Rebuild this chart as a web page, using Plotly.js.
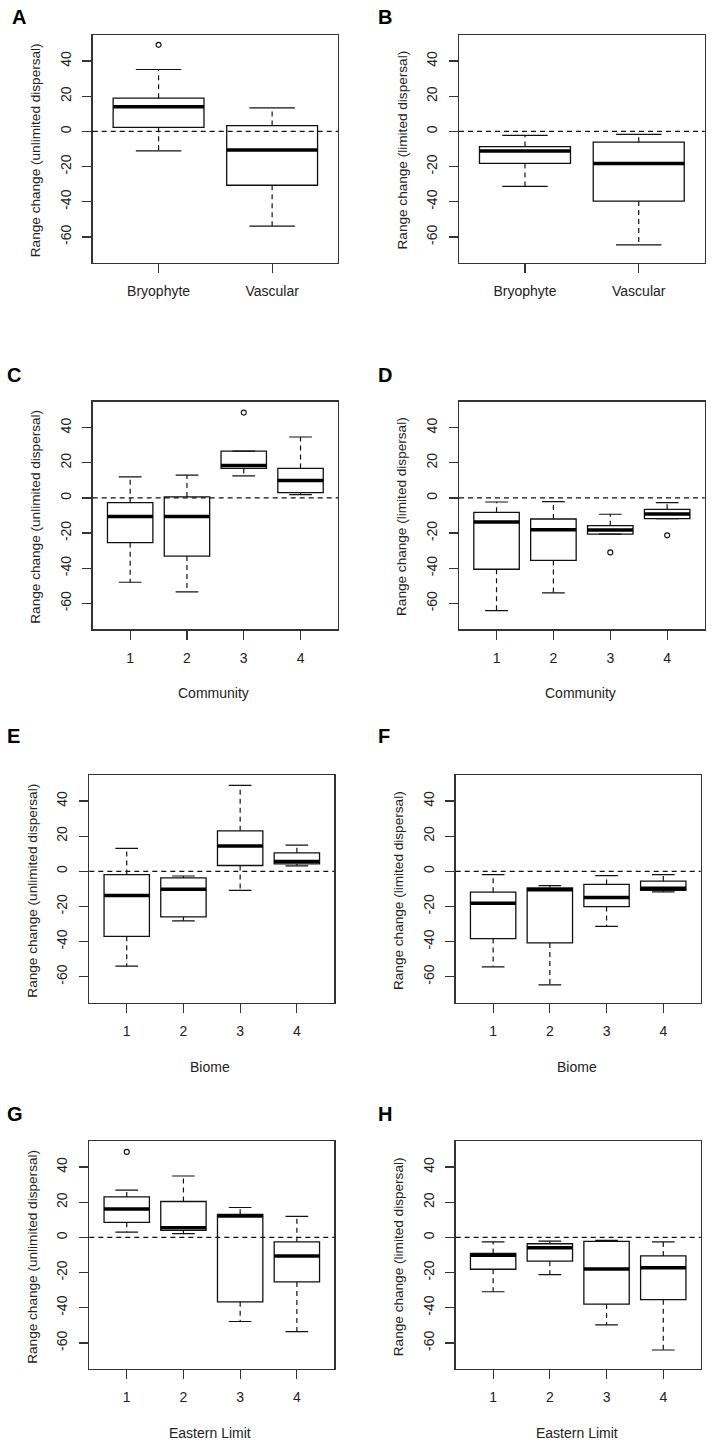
<!DOCTYPE html>
<html><head><meta charset="utf-8">
<script src="https://cdn.plot.ly/plotly-3.0.1.min.js"></script>
<style>html,body{margin:0;padding:0;background:#fff}#chart{width:717px;height:1443px}</style>
</head><body><div id="chart"></div>
<script>
// ---------- data ----------
const groupCats = ['Bryophyte', 'Vascular'];
const numCats = ['1', '2', '3', '4'];
const yTicks = [-60, -40, -20, 0, 20, 40];
const yTitleUnlimited = 'Range change (unlimited dispersal)';
const yTitleLimited = 'Range change (limited dispersal)';

// A: unlimited dispersal by group
const A_low  = [-11.1, -53.8];
const A_q1   = [2.3, -30.6];
const A_med  = [14.0, -10.5];
const A_q3   = [18.9, 3.3];
const A_high = [35.2, 13.4];
const A_outX = [1];
const A_outY = [49.2];

// B: limited dispersal by group
const B_low  = [-31.2, -64.5];
const B_q1   = [-18.2, -39.6];
const B_med  = [-11.1, -18.2];
const B_q3   = [-8.6, -6.1];
const B_high = [-2.3, -1.7];
const B_outX = [];
const B_outY = [];

// C: unlimited dispersal by community
const C_low  = [-48.0, -53.5, 12.6, 1.9];
const C_q1   = [-25.5, -33.1, 16.8, 3.0];
const C_med  = [-10.5, -10.5, 18.5, 9.9];
const C_q3   = [-2.7, 0.6, 26.7, 16.8];
const C_high = [12.0, 13.0, 26.7, 34.7];
const C_outX = [3];
const C_outY = [48.6];

// D: limited dispersal by community
const D_low  = [-64.2, -54.1, -20.6, -11.8];
const D_q1   = [-40.6, -35.6, -20.6, -11.8];
const D_med  = [-13.7, -18.1, -18.3, -9.1];
const D_q3   = [-8.2, -12.0, -15.8, -6.5];
const D_high = [-2.3, -2.1, -9.3, -2.7];
const D_outX = [3, 4];
const D_outY = [-31.0, -21.3];

// E: unlimited dispersal by biome
const E_low  = [-54.0, -28.2, -10.9, 3.1];
const E_q1   = [-37.0, -25.9, 3.3, 4.2];
const E_med  = [-13.8, -10.2, 14.4, 5.6];
const E_q3   = [-1.9, -3.8, 23.0, 10.5];
const E_high = [13.0, -2.7, 48.9, 14.9];
const E_outX = [];
const E_outY = [];

// F: limited dispersal by biome
const F_low  = [-54.4, -64.6, -31.4, -11.7];
const F_q1   = [-38.3, -40.8, -20.1, -10.9];
const F_med  = [-18.2, -10.5, -14.9, -9.6];
const F_q3   = [-11.9, -9.4, -7.5, -5.6];
const F_high = [-1.9, -8.2, -2.5, -1.9];
const F_outX = [];
const F_outY = [];

// G: unlimited dispersal by eastern limit
const G_low  = [3.0, 2.1, -47.8, -53.5];
const G_q1   = [8.6, 4.0, -36.6, -25.3];
const G_med  = [16.2, 5.5, 12.2, -10.5];
const G_q3   = [23.0, 20.4, 13.1, -2.5];
const G_high = [26.9, 34.9, 17.0, 12.0];
const G_outX = [1];
const G_outY = [48.6];

// H: limited dispersal by eastern limit
const H_low  = [-30.9, -21.1, -49.7, -64.0];
const H_q1   = [-18.1, -13.5, -37.9, -35.4];
const H_med  = [-10.1, -5.9, -17.9, -17.3];
const H_q3   = [-9.1, -3.6, -2.3, -10.5];
const H_high = [-2.5, -2.1, -1.7, -2.5];
const H_outX = [];
const H_outY = [];

// ---------- layout geometry ----------
const W = 717, H = 1443;
const panels = [
  {id:'A', cats:groupCats, low:A_low, q1:A_q1, med:A_med, q3:A_q3, high:A_high, ox:A_outX, oy:A_outY, yt:yTitleUnlimited, xt:'', f:[92.7,338,35,263], lab:[9.5,16.7]},
  {id:'B', cats:groupCats, low:B_low, q1:B_q1, med:B_med, q3:B_q3, high:B_high, ox:B_outX, oy:B_outY, yt:yTitleLimited, xt:'', f:[459,704.7,35,263], lab:[375.5,16.7]},
  {id:'C', cats:numCats, low:C_low, q1:C_q1, med:C_med, q3:C_q3, high:C_high, ox:C_outX, oy:C_outY, yt:yTitleUnlimited, xt:'Community', f:[92.7,338,401.7,629.3], lab:[4.5,375]},
  {id:'D', cats:numCats, low:D_low, q1:D_q1, med:D_med, q3:D_q3, high:D_high, ox:D_outX, oy:D_outY, yt:yTitleLimited, xt:'Community', f:[459,704.7,401.7,629.3], lab:[375.5,375]},
  {id:'E', cats:numCats, low:E_low, q1:E_q1, med:E_med, q3:E_q3, high:E_high, ox:E_outX, oy:E_outY, yt:yTitleUnlimited, xt:'Biome', f:[89.3,334.3,775,1002.7], lab:[4.5,735.5]},
  {id:'F', cats:numCats, low:F_low, q1:F_q1, med:F_med, q3:F_q3, high:F_high, ox:F_outX, oy:F_outY, yt:yTitleLimited, xt:'Biome', f:[455.7,700.7,775,1002.7], lab:[375.5,736.5]},
  {id:'G', cats:numCats, low:G_low, q1:G_q1, med:G_med, q3:G_q3, high:G_high, ox:G_outX, oy:G_outY, yt:yTitleUnlimited, xt:'Eastern Limit', f:[89.3,334.3,1141,1369], lab:[4.5,1114]},
  {id:'H', cats:numCats, low:H_low, q1:H_q1, med:H_med, q3:H_q3, high:H_high, ox:H_outX, oy:H_outY, yt:yTitleLimited, xt:'Eastern Limit', f:[455.7,700.7,1141,1369], lab:[375.5,1114]}
];

const FONT = 'Liberation Sans, Arial, sans-serif';
const TXT = '#222';
const FRAME = '#333';
const BOXW = 0.8;

const traces = [];
const layout = {
  width: W, height: H,
  margin: {l:0, r:0, t:0, b:0},
  paper_bgcolor: '#fff', plot_bgcolor: '#fff',
  showlegend: false,
  font: {family: FONT, color: TXT},
  shapes: [], annotations: []
};

panels.forEach((p, i) => {
  const n = i + 1;
  const xa = n === 1 ? 'x' : 'x' + n;
  const ya = n === 1 ? 'y' : 'y' + n;
  const pos = p.cats.map((c, k) => k + 1);
  const ng = p.cats.length;

  // box bodies (whisker fences drawn separately as dashed lines, R style)
  traces.push({
    type: 'box', xaxis: xa, yaxis: ya,
    x: pos, q1: p.q1, median: p.med, q3: p.q3,
    lowerfence: p.q1, upperfence: p.q3,
    width: BOXW, whiskerwidth: 0,
    fillcolor: 'rgba(255,255,255,0)',
    line: {color: '#111', width: 1.3},
    boxpoints: false, hoverinfo: 'skip'
  });

  // dashed whiskers, solid caps, thick medians
  const wx = [], wy = [], cx = [], cy = [], mx = [], my = [];
  pos.forEach((x, k) => {
    wx.push(x, x, null, x, x, null);
    wy.push(p.q3[k], p.high[k], null, p.q1[k], p.low[k], null);
    cx.push(x - BOXW / 4, x + BOXW / 4, null, x - BOXW / 4, x + BOXW / 4, null);
    cy.push(p.high[k], p.high[k], null, p.low[k], p.low[k], null);
    mx.push(x - BOXW / 2, x + BOXW / 2, null);
    my.push(p.med[k], p.med[k], null);
  });
  traces.push({type:'scatter', mode:'lines', xaxis:xa, yaxis:ya, x:wx, y:wy,
    line:{color:'#111', width:1.2, dash:'5px,4px'}, hoverinfo:'skip'});
  traces.push({type:'scatter', mode:'lines', xaxis:xa, yaxis:ya, x:cx, y:cy,
    line:{color:'#111', width:1.2}, hoverinfo:'skip'});
  traces.push({type:'scatter', mode:'lines', xaxis:xa, yaxis:ya, x:mx, y:my,
    line:{color:'#000', width:3.5}, hoverinfo:'skip'});
  if (p.ox.length) {
    traces.push({type:'scatter', mode:'markers', xaxis:xa, yaxis:ya, x:p.ox, y:p.oy,
      marker:{symbol:'circle-open', size:5, color:'#111', line:{width:1.1, color:'#111'}}, hoverinfo:'skip'});
  }

  const [x0, x1, y0, y1] = p.f;
  const pad = 0.04 * ng; // R's 4% axis expansion
  layout['xaxis' + (n === 1 ? '' : n)] = {
    domain: [x0 / W, x1 / W], anchor: ya,
    range: [0.5 - pad, ng + 0.5 + pad],
    tickmode: 'array', tickvals: pos, ticktext: p.cats,
    ticks: 'outside', ticklen: 9, tickwidth: 1.2, tickcolor: FRAME,
    ticklabelstandoff: 6,
    showline: true, mirror: true, linecolor: FRAME, linewidth: 1.4,
    showgrid: false, zeroline: false, fixedrange: true,
    tickfont: {family: FONT, size: 14, color: TXT}
  };
  layout['yaxis' + (n === 1 ? '' : n)] = {
    domain: [1 - y1 / H, 1 - y0 / H], anchor: xa,
    range: [-74.8, 54.8],
    tickmode: 'array', tickvals: yTicks, ticktext: yTicks.map(String),
    tickangle: -90,
    ticks: 'outside', ticklen: 9, tickwidth: 1.2, tickcolor: FRAME,
    ticklabelstandoff: 6,
    showline: true, mirror: true, linecolor: FRAME, linewidth: 1.4,
    showgrid: false, zeroline: false, fixedrange: true,
    tickfont: {family: FONT, size: 14, color: TXT}
  };

  // zero reference line (abline h=0, lty=2)
  layout.shapes.push({
    type: 'line', layer: 'above', xref: xa + ' domain', yref: ya,
    x0: 0, x1: 1, y0: 0, y1: 0,
    line: {color: '#111', width: 1.2, dash: '5px,4px'}
  });

  // panel letter
  layout.annotations.push({
    xref: 'paper', yref: 'paper', x: p.lab[0] / W, y: 1 - p.lab[1] / H,
    xanchor: 'left', yanchor: 'middle', showarrow: false,
    text: p.id, font: {family: FONT, size: 20, weight: 'bold', color: '#000'}
  });
  // y-axis title
  layout.annotations.push({
    xref: 'paper', yref: 'paper', x: (x0 - 57) / W, y: 1 - ((y0 + y1) / 2 + 1.5) / H,
    xanchor: 'center', yanchor: 'middle', showarrow: false, textangle: -90,
    text: p.yt, font: {family: FONT, size: 13.6, color: TXT}
  });
  // x-axis title
  if (p.xt) {
    layout.annotations.push({
      xref: 'paper', yref: 'paper', x: ((x0 + x1) / 2 - 1.5) / W, y: 1 - (y1 + 64) / H,
      xanchor: 'center', yanchor: 'middle', showarrow: false,
      text: p.xt, font: {family: FONT, size: 14, color: TXT}
    });
  }
});

Plotly.newPlot('chart', traces, layout, {staticPlot: true, displayModeBar: false});
</script>
</body></html>
